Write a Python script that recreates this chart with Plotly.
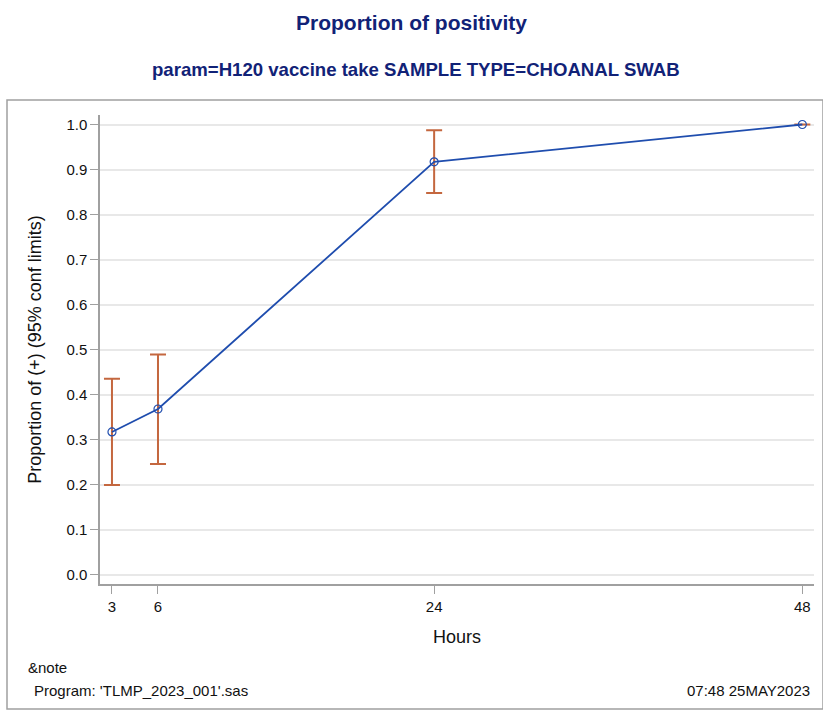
import plotly.graph_objects as go

hours = [3, 6, 24, 48]
proportion = [0.317, 0.368, 0.917, 1.0]
lower_cl = [0.199, 0.246, 0.848, 1.0]
upper_cl = [0.435, 0.489, 0.987, 1.0]
x_ticks = [3, 6, 24, 48]
y_ticks = [0.0, 0.1, 0.2, 0.3, 0.4, 0.5, 0.6, 0.7, 0.8, 0.9, 1.0]

err_plus = [u - p for u, p in zip(upper_cl, proportion)]
err_minus = [p - l for p, l in zip(proportion, lower_cl)]

FONT = "Liberation Sans, Arial, sans-serif"
W, H = 823, 710
L, R, T, B = 100, 9, 115, 126
pw, ph = W - L - R, H - T - B


def px(x):
    return (x - L) / pw


def py(y):
    return (H - B - y) / ph


fig = go.Figure()
fig.add_trace(go.Scatter(
    x=hours, y=proportion, mode="lines+markers",
    line=dict(color="#1F4DAE", width=1.8),
    marker=dict(symbol="circle-open", size=8, color="#1F4DAE", line=dict(width=1.2)),
    error_y=dict(type="data", symmetric=False, array=err_plus, arrayminus=err_minus,
                 color="#C4673F", thickness=2, width=8),
    showlegend=False,
))

fig.update_layout(
    width=W, height=H,
    margin=dict(l=L, r=R, t=T, b=B),
    paper_bgcolor="white", plot_bgcolor="white",
    font=dict(family=FONT, color="#111111"),
    xaxis=dict(
        range=[2.22, 48.76], tickvals=x_ticks, ticktext=[str(v) for v in x_ticks],
        showgrid=False, zeroline=False, showline=True, linecolor="#A0A0A0", linewidth=1.5,
        ticks="outside", ticklen=8, tickcolor="#A0A0A0", tickfont=dict(size=15, color="#111111"),
        title=dict(text="Hours", font=dict(size=18, color="#111111"), standoff=17),
    ),
    yaxis=dict(
        range=[-0.0207, 1.0211], tickvals=y_ticks, tickformat=".1f",
        showgrid=True, gridcolor="#E8E8E8", gridwidth=1.5, zeroline=False,
        showline=True, linecolor="#A0A0A0", linewidth=1.5,
        ticks="outside", ticklen=8, tickcolor="#A0A0A0", tickfont=dict(size=15, color="#111111"),
        title=dict(text="Proportion of (+) (95% conf limits)", font=dict(size=18, color="#111111"), standoff=20),
    ),
    shapes=[dict(
        type="rect", xref="paper", yref="paper",
        x0=px(7), x1=px(823), y0=py(709), y1=py(100),
        line=dict(color="#A0A0A0", width=1.5), fillcolor="rgba(0,0,0,0)", layer="below",
    )],
    annotations=[
        dict(text="<b>Proportion of positivity</b>", xref="paper", yref="paper", x=px(411), y=py(22),
             xanchor="center", yanchor="middle", showarrow=False,
             font=dict(family=FONT, size=21, color="#112277")),
        dict(text="<b>param=H120 vaccine take SAMPLE TYPE=CHOANAL SWAB</b>", xref="paper", yref="paper",
             x=px(416), y=py(70), xanchor="center", yanchor="middle", showarrow=False,
             font=dict(family=FONT, size=18.6, color="#112277")),
        dict(text="&note", xref="paper", yref="paper", x=px(26), y=py(667),
             xanchor="left", yanchor="middle", showarrow=False,
             font=dict(family=FONT, size=15, color="#111111")),
        dict(text="Program: 'TLMP_2023_001'.sas", xref="paper", yref="paper", x=px(32), y=py(690),
             xanchor="left", yanchor="middle", showarrow=False,
             font=dict(family=FONT, size=15, color="#111111")),
        dict(text="07:48 25MAY2023", xref="paper", yref="paper", x=px(812), y=py(690),
             xanchor="right", yanchor="middle", showarrow=False,
             font=dict(family=FONT, size=15, color="#111111")),
    ],
)

fig.write_html("out.html")
